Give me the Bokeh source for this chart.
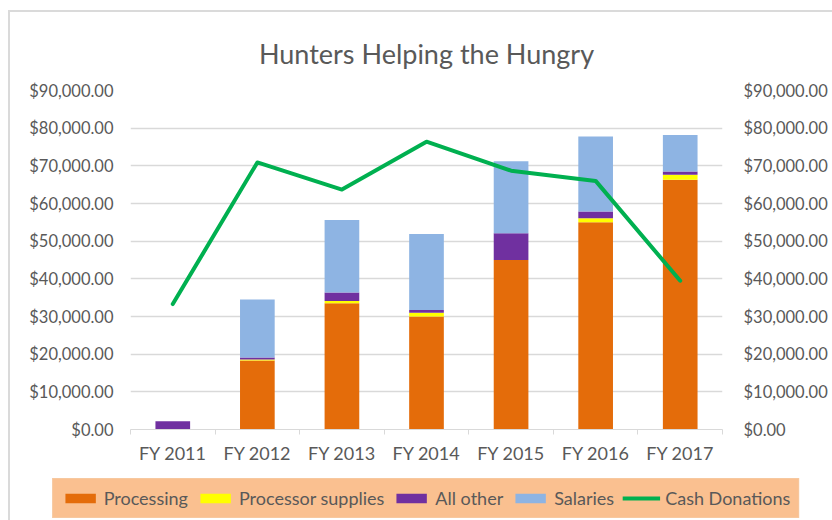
from bokeh.plotting import figure
from bokeh.layouts import column
from bokeh.models import (LinearAxis, NumeralTickFormatter, FixedTicker, Range1d,
                          Legend, InlineStyleSheet)
from bokeh.embed import file_html
from bokeh.resources import INLINE

categories = ["FY 2011", "FY 2012", "FY 2013", "FY 2014", "FY 2015", "FY 2016", "FY 2017"]
processing = [0, 18300, 33500, 30000, 45000, 55000, 66300]
processor_supplies = [0, 300, 600, 1000, 0, 1100, 1300]
all_other = [2200, 500, 2300, 700, 7100, 1800, 900]
salaries = [0, 15400, 19200, 20200, 19100, 19900, 9700]
cash_donations = [33300, 70900, 63700, 76400, 68700, 66000, 39500]
y_ticks = [0, 10000, 20000, 30000, 40000, 50000, 60000, 70000, 80000, 90000]

FONT = "Lato"
TXT = "#595959"

xs = list(range(len(categories)))
data = dict(x=xs, processing=processing, processor_supplies=processor_supplies,
            all_other=all_other, salaries=salaries, cash=cash_donations)

stack_keys = ["processing", "processor_supplies", "all_other", "salaries"]
colors = ["#E46C0A", "#FFFF00", "#7030A0", "#8EB4E3"]
labels = ["Processing", "Processor supplies", "All other", "Salaries"]
GREEN = "#00B050"

p = figure(width=832, height=476, output_backend="svg", toolbar_location=None,
           x_range=Range1d(-0.5, len(categories) - 0.5), y_range=Range1d(0, 90000),
           min_border_left=130, min_border_right=110, min_border_top=90, min_border_bottom=47,
           title="Hunters Helping the Hungry")

p.title.align = "center"
p.title.text_font = FONT
p.title.text_font_size = "27px"
p.title.text_font_style = "normal"
p.title.text_color = TXT
p.title.standoff = 42

p.vbar_stack(stack_keys, x="x", width=0.41, color=colors, source=data, line_color=None)
p.line(x="x", y="cash", source=data, line_width=4, color=GREEN,
       line_join="round", line_cap="round")

# axes
p.xaxis.ticker = FixedTicker(ticks=xs, minor_ticks=[i - 0.5 for i in range(len(categories) + 1)])
p.xaxis.major_label_overrides = {i: c for i, c in enumerate(categories)}
p.xaxis.major_tick_line_color = None
p.xaxis.major_tick_out = 0
p.xaxis.major_tick_in = 0
p.xaxis.minor_tick_line_color = "#D9D9D9"
p.xaxis.minor_tick_out = 5
p.xaxis.minor_tick_in = 0
p.xaxis.axis_line_color = "#D9D9D9"
p.xaxis.major_label_text_font = FONT
p.xaxis.major_label_text_font_size = "18px"
p.xaxis.major_label_text_color = TXT
p.xaxis.major_label_standoff = 7

p.yaxis.ticker = FixedTicker(ticks=y_ticks)
p.yaxis.formatter = NumeralTickFormatter(format="$0,0.00")
ry = LinearAxis(ticker=FixedTicker(ticks=y_ticks), formatter=NumeralTickFormatter(format="$0,0.00"))
p.add_layout(ry, "right")
for ax in [p.yaxis[0], ry]:
    ax.axis_line_color = None
    ax.major_tick_line_color = None
    ax.major_tick_out = 0
    ax.major_tick_in = 0
    ax.minor_tick_line_color = None
    ax.major_label_text_font = FONT
    ax.major_label_text_font_size = "16.5px"
    ax.major_label_text_color = TXT
ry.major_label_standoff = 21
p.yaxis[0].major_label_standoff = 17

p.xgrid.grid_line_color = None
p.ygrid.ticker = FixedTicker(ticks=y_ticks)
p.ygrid.grid_line_color = "#D9D9D9"
p.ygrid.grid_line_width = 1.5
p.outline_line_color = None

# legend strip (separate small figure with hidden renderers of the same series)
pl = figure(width=832, height=44, output_backend="svg", toolbar_location=None,
            x_range=Range1d(0, 1), y_range=Range1d(0, 1),
            x_axis_location=None, y_axis_location=None,
            min_border_left=19, min_border_right=0, min_border_top=0, min_border_bottom=0)
pl.grid.visible = False
pl.outline_line_color = None
lbars = pl.vbar_stack(stack_keys, x="x", width=0.41, color=colors, source=data, line_color=None)
lline = pl.line(x="x", y="cash", source=data, line_width=4, color=GREEN)
for r in lbars + [lline]:
    r.visible = False

try:
    pl.frame_align = False
    p.frame_align = False
except Exception:
    pass

legend = Legend(items=[(labels[i], [lbars[i]]) for i in range(4)] + [("Cash Donations", [lline])],
                orientation="horizontal", location="center", click_policy="none")
legend.background_fill_color = "#FAC090"
legend.background_fill_alpha = 1
legend.border_line_color = "#F3CFAE"
legend.label_text_font = FONT
legend.label_text_font_size = "18px"
legend.label_text_color = TXT
legend.glyph_width = 38
legend.glyph_height = 12
legend.label_standoff = 5
legend.spacing = 8
legend.padding = 8
legend.margin = 0
legend.inactive_fill_alpha = 0
pl.add_layout(legend, "center")

layout = column(p, pl, spacing=0)
layout.stylesheets = [InlineStyleSheet(css=(
    ":host { position: relative; }"
    ":host::after { content: ''; position: absolute; left: 8px; top: 10px; right: 0; bottom: 0;"
    " border-top: 2px solid #DADADA; border-left: 2px solid #DADADA;"
    " pointer-events: none; z-index: 10; }"
))]
open("out.html", "w").write(file_html(layout, INLINE))
